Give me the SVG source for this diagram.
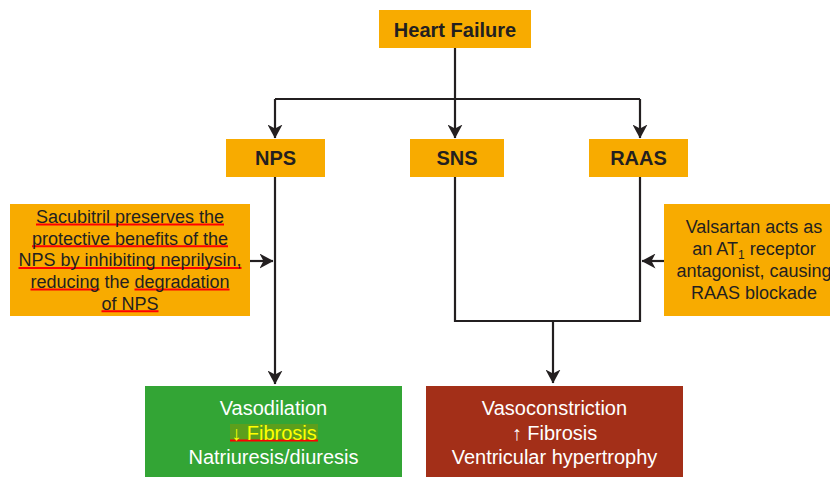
<svg xmlns="http://www.w3.org/2000/svg" width="830" height="478" viewBox="0 0 830 478">
<style>
.box{fill:#f8ab00}
.t{font-family:"Liberation Sans",Arial,sans-serif;fill:#231f20;text-anchor:middle}
.h{font-size:20px;font-weight:bold}
.s{font-size:18px}
.w{font-family:"Liberation Sans",Arial,sans-serif;fill:#ffffff;text-anchor:middle;font-size:20px}
.c{stroke:#231f20;stroke-width:2.2;fill:none}
.u{stroke:#ff0000;stroke-width:2}
</style>
<defs>
<marker id="ah" viewBox="0 0 14 15" refX="13.5" refY="7.5" markerWidth="14" markerHeight="15" markerUnits="userSpaceOnUse" orient="auto">
<path d="M0,0 L14,7.5 L0,15 L4,7.5 Z" fill="#231f20"/>
</marker>
</defs>
<rect width="830" height="478" fill="#ffffff"/>
<g id="connectors">
<path class="c" d="M455,48 V99"/>
<path class="c" d="M275,99 H640"/>
<path class="c" d="M275,99 V138" marker-end="url(#ah)"/>
<path class="c" d="M455,99 V138" marker-end="url(#ah)"/>
<path class="c" d="M640,99 V138" marker-end="url(#ah)"/>
<path class="c" d="M275,177 V384" marker-end="url(#ah)"/>
<path class="c" d="M455,177 V321 H640 V177"/>
<path class="c" d="M553,321 V383" marker-end="url(#ah)"/>
<path class="c" d="M250,261 H273" marker-end="url(#ah)"/>
<path class="c" d="M664,261 H642" marker-end="url(#ah)"/>
</g>
<g id="heart-failure">
<rect class="box" x="379" y="10" width="152" height="38"/>
<text class="t h" x="455" y="37">Heart Failure</text>
</g>
<g id="nps">
<rect class="box" x="226" y="139" width="99" height="38"/>
<text class="t h" x="275.5" y="165">NPS</text>
</g>
<g id="sns">
<rect class="box" x="410" y="139" width="94" height="38"/>
<text class="t h" x="457" y="165">SNS</text>
</g>
<g id="raas">
<rect class="box" x="589" y="139" width="99" height="38"/>
<text class="t h" x="638.5" y="165">RAAS</text>
</g>
<g id="sacubitril">
<rect class="box" x="10" y="204" width="240" height="112"/>
<line class="u" x1="36" y1="224.5" x2="224" y2="224.5"/>
<line class="u" x1="32" y1="246.2" x2="228" y2="246.2"/>
<line class="u" x1="18.5" y1="267.9" x2="241.5" y2="267.9"/>
<line class="u" x1="30.5" y1="289.6" x2="99.5" y2="289.6"/>
<line class="u" x1="134.5" y1="289.6" x2="229.5" y2="289.6"/>
<line class="u" x1="101.5" y1="311.3" x2="158.5" y2="311.3"/>
<text class="t s" x="130" y="223">Sacubitril preserves the</text>
<text class="t s" x="130" y="244.7">protective benefits of the</text>
<text class="t s" x="130" y="266.4">NPS by inhibiting neprilysin,</text>
<text class="t s" x="130" y="288.1">reducing the degradation</text>
<text class="t s" x="130" y="309.8">of NPS</text>
</g>
<g id="valsartan">
<rect class="box" x="664" y="204" width="170" height="112"/>
<text class="t s" x="754" y="233">Valsartan acts as</text>
<text class="t s" x="754" y="255">an AT<tspan font-size="12" dy="4">1</tspan><tspan dy="-4"> receptor</tspan></text>
<text class="t s" x="754" y="277">antagonist, causing</text>
<text class="t s" x="754" y="299">RAAS blockade</text>
</g>
<g id="vasodilation">
<rect x="145" y="386" width="257" height="91" fill="#33a535"/>
<rect x="230" y="424" width="88" height="17" fill="#5c9f1c"/>
<line class="u" x1="230" y1="440.5" x2="318" y2="440.5"/>
<text class="w" x="273.5" y="415">Vasodilation</text>
<text class="w" x="274" y="440" style="fill:#ffff00">↓ Fibrosis</text>
<text class="w" x="273.5" y="464">Natriuresis/diuresis</text>
</g>
<g id="vasoconstriction">
<rect x="426" y="386" width="257" height="91" fill="#a32f18"/>
<text class="w" x="554.5" y="415">Vasoconstriction</text>
<text class="w" x="554.5" y="440">↑ Fibrosis</text>
<text class="w" x="554.5" y="464">Ventricular hypertrophy</text>
</g>
</svg>
